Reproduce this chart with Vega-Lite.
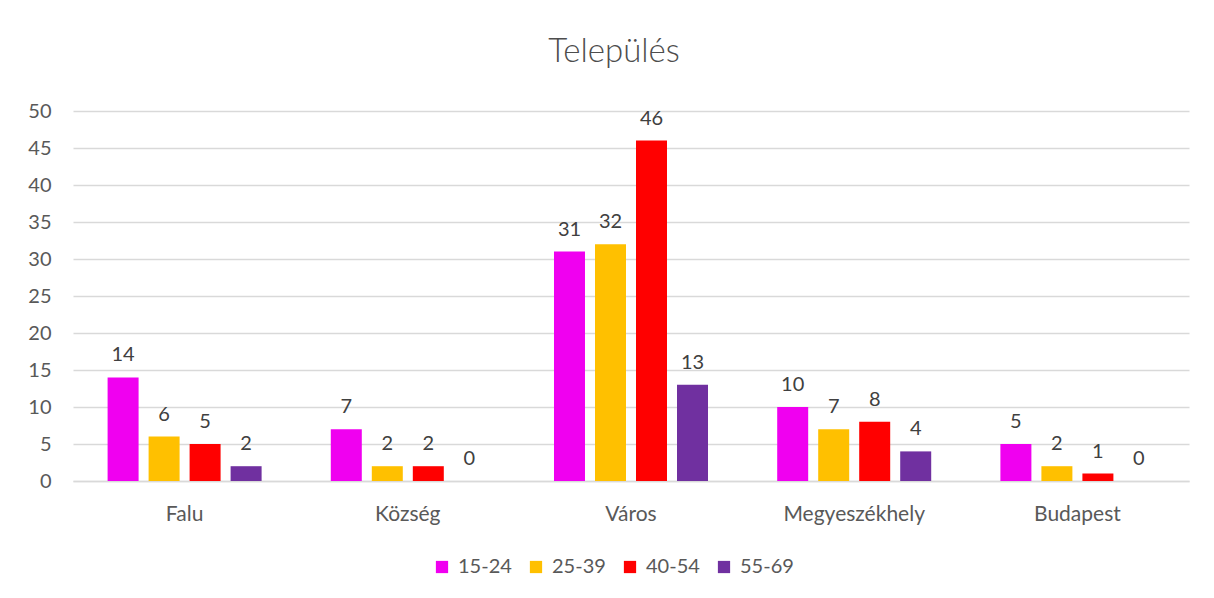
{
  "$schema": "https://vega.github.io/schema/vega-lite/v6.json",
  "width": 1116,
  "height": 370,
  "autosize": "none",
  "padding": {"left": 73, "top": 111, "right": 25, "bottom": 117},
  "background": "white",
  "config": {"view": {"stroke": null}},
  "title": {"text": "Település", "fontSize": 33, "font": "Lato", "fontWeight": 300, "color": "#4d4d4d", "anchor": "middle", "offset": 32, "dx": -17},
  "data": {"values": [
    {"t": "Falu", "a": "15-24", "v": 14}, {"t": "Falu", "a": "25-39", "v": 6}, {"t": "Falu", "a": "40-54", "v": 5}, {"t": "Falu", "a": "55-69", "v": 2},
    {"t": "Község", "a": "15-24", "v": 7}, {"t": "Község", "a": "25-39", "v": 2}, {"t": "Község", "a": "40-54", "v": 2}, {"t": "Község", "a": "55-69", "v": 0},
    {"t": "Város", "a": "15-24", "v": 31}, {"t": "Város", "a": "25-39", "v": 32}, {"t": "Város", "a": "40-54", "v": 46}, {"t": "Város", "a": "55-69", "v": 13},
    {"t": "Megyeszékhely", "a": "15-24", "v": 10}, {"t": "Megyeszékhely", "a": "25-39", "v": 7}, {"t": "Megyeszékhely", "a": "40-54", "v": 8}, {"t": "Megyeszékhely", "a": "55-69", "v": 4},
    {"t": "Budapest", "a": "15-24", "v": 5}, {"t": "Budapest", "a": "25-39", "v": 2}, {"t": "Budapest", "a": "40-54", "v": 1}, {"t": "Budapest", "a": "55-69", "v": 0}
  ]},
  "encoding": {
    "x": {"field": "t", "type": "nominal", "sort": null, "title": null,
      "scale": {"paddingInner": 0.31, "paddingOuter": 0.155},
      "axis": {"labelAngle": 0, "labelFont": "Lato", "labelFontSize": 21, "labelColor": "#595959", "labelPadding": 22, "ticks": false, "domainColor": "#d9d9d9", "domainWidth": 1.5}},
    "xOffset": {"field": "a", "type": "nominal", "scale": {"paddingInner": 0.244, "paddingOuter": 0}},
    "y": {"field": "v", "type": "quantitative", "title": null,
      "scale": {"domain": [0, 50], "nice": false},
      "axis": {"values": [0, 5, 10, 15, 20, 25, 30, 35, 40, 45, 50], "labelFont": "Lato", "labelFontSize": 20, "labelColor": "#595959", "labelPadding": 22, "ticks": false, "domain": false, "gridColor": "#d9d9d9", "gridWidth": 1.5}}
  },
  "layer": [
    {
      "mark": {"type": "bar", "strokeWidth": 0},
      "encoding": {
        "color": {"field": "a", "type": "nominal", "title": null,
          "scale": {"domain": ["15-24", "25-39", "40-54", "55-69"], "range": ["#f000f0", "#ffc000", "#ff0000", "#7030a0"]},
          "legend": {"orient": "none", "legendX": 359, "legendY": 446, "direction": "horizontal", "symbolType": "square", "symbolSize": 150, "symbolStrokeWidth": 0, "labelFont": "Lato", "labelFontSize": 20, "labelColor": "#595959", "columnPadding": 14, "labelOffset": 6}}
      }
    },
    {
      "mark": {"type": "text", "baseline": "bottom", "dy": -12, "font": "Lato", "fontSize": 20, "color": "#404040"},
      "encoding": {"text": {"field": "v", "type": "quantitative"}}
    }
  ]
}
